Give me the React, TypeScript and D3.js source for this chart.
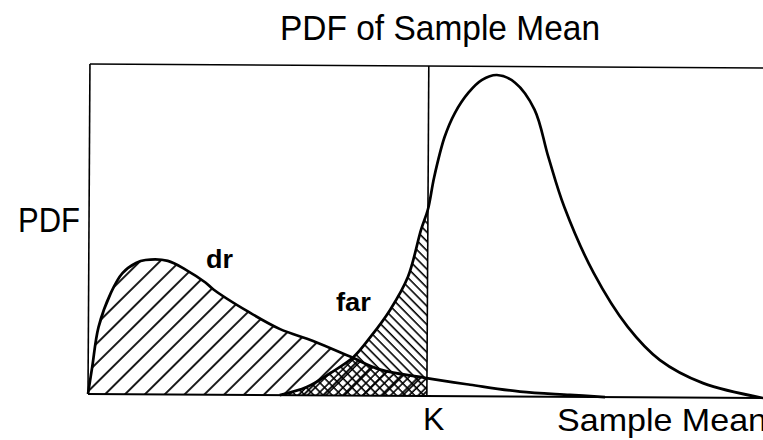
import React from 'react';
import * as d3 from 'd3';

// Noise (left) distribution "dr"
const noiseX = [0, 0.06, 0.15, 0.33, 0.5, 0.7, 0.84, 1.17, 1.44, 1.73, 1.85, 2.36, 2.84, 3.33, 3.88, 4.33, 4.99, 5.66, 6.4, 7.14, 7.66];
const noiseY = [0, 0.082, 0.203, 0.307, 0.367, 0.398, 0.407, 0.405, 0.378, 0.34, 0.319, 0.253, 0.2, 0.165, 0.118, 0.079, 0.055, 0.035, 0.015, 0.006, 0];
// Signal (right) distribution
const signalX = [2.84, 3.24, 3.59, 3.93, 4.18, 4.47, 4.73, 4.92, 5.02, 5.11, 5.26, 5.41, 5.61, 5.81, 6.03, 6.3, 6.59, 6.8, 7.04, 7.48, 7.99, 8.47, 9.11, 10];
const signalY = [0, 0.025, 0.068, 0.117, 0.178, 0.261, 0.361, 0.504, 0.566, 0.664, 0.785, 0.858, 0.92, 0.959, 0.974, 0.951, 0.87, 0.726, 0.575, 0.376, 0.213, 0.113, 0.044, 0];
const threshold = 5.02;

const title = 'PDF of Sample Mean';
const yLabel = 'PDF';
const xLabel = 'Sample Mean';
const thresholdLabel = 'K';
const noiseLabel = 'dr';
const signalLabel = 'far';

const W = 763;
const H = 440;
const left = 88;
const right = 763;
const top = 64;
const bottom = 394;

export default function App() {
  const x = d3.scaleLinear().domain([0, 10]).range([left, right]);
  const y = d3.scaleLinear().domain([0, 1]).range([bottom, top]);

  const noise = noiseX.map((v, i) => [v, noiseY[i]] as [number, number]);
  const signal = signalX.map((v, i) => [v, signalY[i]] as [number, number]);

  const curve = d3.curveCatmullRom.alpha(0.5);
  const line = d3
    .line<[number, number]>()
    .x((d) => x(d[0]))
    .y((d) => y(d[1]))
    .curve(curve);
  const area = d3
    .area<[number, number]>()
    .x((d) => x(d[0]))
    .y0(y(0))
    .y1((d) => y(d[1]))
    .curve(curve);

  const xK = x(threshold);
  const font = '"Liberation Sans", Arial, Helvetica, sans-serif';
  const rot = (Math.atan(4 / (right - left)) * 180) / Math.PI;

  return (
    <div style={{ position: 'absolute', left: 0, top: 0 }}>
      <svg width={W} height={H} viewBox={`0 0 ${W} ${H}`} style={{ display: 'block', background: '#fff' }}>
        <defs>
          <pattern id="hatchSparse" width={14} height={14} patternUnits="userSpaceOnUse" patternTransform="rotate(45)">
            <line x1={3} y1={-2} x2={3} y2={16} stroke="#000" strokeWidth={1.8} />
          </pattern>
          <pattern id="hatchDenseBack" width={6.5} height={6.5} patternUnits="userSpaceOnUse" patternTransform="rotate(-45)">
            <line x1={2} y1={-2} x2={2} y2={9} stroke="#000" strokeWidth={1.6} />
          </pattern>
          <pattern id="hatchDenseFwd" width={6.5} height={6.5} patternUnits="userSpaceOnUse" patternTransform="rotate(45)">
            <line x1={2} y1={-2} x2={2} y2={9} stroke="#000" strokeWidth={1.6} />
          </pattern>
          <clipPath id="clipNoise">
            <path d={area(noise) || ''} />
          </clipPath>
          <clipPath id="clipSignal">
            <path d={area(signal) || ''} />
          </clipPath>
        </defs>

        <g transform={`rotate(${rot}, ${left}, ${bottom})`}>
          {/* hatched areas left of K */}
          <rect x={left} y={top} width={xK - left} height={bottom - top} fill="url(#hatchSparse)" clipPath="url(#clipNoise)" />
          <rect x={left} y={top} width={xK - left} height={bottom - top} fill="url(#hatchDenseBack)" clipPath="url(#clipSignal)" />
          <g clipPath="url(#clipNoise)">
            <rect x={left} y={top} width={xK - left} height={bottom - top} fill="url(#hatchDenseFwd)" clipPath="url(#clipSignal)" />
          </g>

          {/* frame */}
          <line x1={left} y1={bottom} x2={left} y2={top} stroke="#000" strokeWidth={1.6} />
          <line x1={left} y1={top} x2={right + 10} y2={top} stroke="#000" strokeWidth={1.6} />
          <line x1={left} y1={bottom} x2={right + 10} y2={bottom} stroke="#000" strokeWidth={2} />
          <line x1={xK} y1={bottom} x2={xK} y2={top} stroke="#000" strokeWidth={1.6} />

          {/* curves */}
          <path d={line(noise) || ''} fill="none" stroke="#000" strokeWidth={2.7} />
          <path d={line(signal) || ''} fill="none" stroke="#000" strokeWidth={2.7} />
        </g>

        <text x={280} y={40} fontFamily={font} fontSize={35} textLength={320} lengthAdjust="spacingAndGlyphs" fill="#000">
          {title}
        </text>
        <text x={18} y={232} fontFamily={font} fontSize={35} textLength={62} lengthAdjust="spacingAndGlyphs" fill="#000">
          {yLabel}
        </text>
        <text x={423} y={430} fontFamily={font} fontSize={32} fill="#000">
          {thresholdLabel}
        </text>
        <text x={557} y={431} fontFamily={font} fontSize={32} textLength={210} lengthAdjust="spacingAndGlyphs" fill="#000">
          {xLabel}
        </text>
        <text x={206} y={268} fontFamily={font} fontSize={25} fontWeight="bold" textLength={27} lengthAdjust="spacingAndGlyphs" fill="#000">
          {noiseLabel}
        </text>
        <text x={336} y={311} fontFamily={font} fontSize={25} fontWeight="bold" textLength={35} lengthAdjust="spacingAndGlyphs" fill="#000">
          {signalLabel}
        </text>
      </svg>
    </div>
  );
}
